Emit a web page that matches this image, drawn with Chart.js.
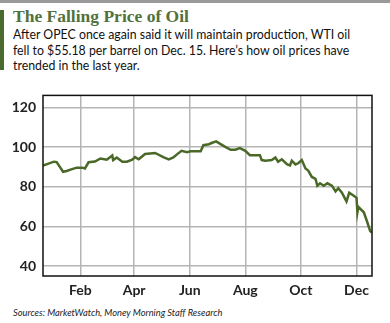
<!DOCTYPE html>
<html>
<head>
<meta charset="utf-8">
<script src="https://cdn.jsdelivr.net/npm/chart.js@4.4.0/dist/chart.umd.min.js"></script>
<style>
  html, body { margin: 0; padding: 0; background: #fff; }
  #wrap { position: relative; width: 390px; height: 323px; overflow: hidden; background: #fff; }
  #topbar { position: absolute; left: 0; top: 0; width: 390px; height: 3px; background: #9a9a9a; }
  #sidebar { position: absolute; left: 0; top: 10px; width: 4px; height: 60px; background: #4b6a2e; }
  #title { position: absolute; left: 13px; top: 6px; font-family: "Liberation Serif", serif; font-weight: bold; font-size: 17.5px; color: #53713a; white-space: nowrap; }
  #sub { position: absolute; left: 13px; top: 26px; font-family: Lato, sans-serif; font-size: 14px; line-height: 15.5px; color: #111; white-space: nowrap; transform: scaleX(0.88); transform-origin: left top; }
  #src { position: absolute; left: 13px; top: 307px; font-family: Lato, sans-serif; font-style: italic; font-size: 9.3px; color: #222; white-space: nowrap; }
  #box { position: absolute; left: 0; top: 80px; width: 390px; height: 220px; }
</style>
</head>
<body>
<div id="wrap">
  <div id="topbar"></div>
  <div id="sidebar"></div>
  <div id="title">The Falling Price of Oil</div>
  <div id="sub">After OPEC once again said it will maintain production, WTI oil<br>fell to $55.18 per barrel on Dec. 15. Here’s how oil prices have<br>trended in the last year.</div>
  <div id="box"><canvas id="oil"></canvas></div>
  <div id="src">Sources: MarketWatch, Money Morning Staff Research</div>
</div>
<script>
// dates, prices in $ per barrel
const dates = [
  '2013-12-22', '2014-01-03', '2014-01-06', '2014-01-10', '2014-01-13', '2014-01-17',
  '2014-01-22', '2014-01-28', '2014-02-03', '2014-02-06', '2014-02-10', '2014-02-17',
  '2014-02-23', '2014-03-02', '2014-03-08', '2014-03-09', '2014-03-13', '2014-03-19',
  '2014-03-24', '2014-03-30', '2014-04-02', '2014-04-06', '2014-04-13', '2014-04-24',
  '2014-05-03', '2014-05-09', '2014-05-14', '2014-05-18', '2014-05-23', '2014-05-29',
  '2014-06-02', '2014-06-13', '2014-06-16', '2014-06-22', '2014-06-25', '2014-06-30',
  '2014-07-04', '2014-07-10', '2014-07-16', '2014-07-21', '2014-07-26', '2014-08-01',
  '2014-08-06', '2014-08-17', '2014-08-19', '2014-08-23', '2014-08-30', '2014-09-03',
  '2014-09-06', '2014-09-10', '2014-09-16', '2014-09-19', '2014-09-21', '2014-09-25',
  '2014-09-28', '2014-10-02', '2014-10-06', '2014-10-09', '2014-10-13', '2014-10-17',
  '2014-10-19', '2014-10-22', '2014-10-26', '2014-10-30', '2014-11-04', '2014-11-08',
  '2014-11-11', '2014-11-15', '2014-11-20', '2014-11-23', '2014-11-28', '2014-12-01',
  '2014-12-02', '2014-12-03', '2014-12-09', '2014-12-12', '2014-12-16', '2014-12-18'
];
const prices = [
  90.7, 92.6, 92.4, 89.6, 87.5, 87.9,
  88.7, 89.6, 89.6, 89.2, 92.3, 92.7,
  94.2, 93.6, 95.7, 93.4, 94.7, 92.6,
  92.6, 93.6, 94.9, 93.8, 96.5, 97.0,
  94.9, 93.8, 94.7, 96.3, 98.1, 97.4,
  97.8, 97.8, 100.9, 101.4, 102.0, 102.8,
  101.7, 100.1, 98.6, 98.6, 99.4, 98.1,
  95.9, 95.9, 93.4, 93.1, 93.4, 94.7,
  92.6, 93.8, 91.2, 90.7, 93.1, 91.2,
  91.8, 93.4, 89.2, 88.1, 84.9, 84.0,
  80.5, 81.7, 80.5, 81.7, 80.5, 77.6,
  79.2, 77.0, 72.6, 77.0, 75.4, 74.4,
  67.1, 69.8, 67.1, 63.2, 57.7, 56.9
];

const monthTicks = ['2014-02-01', '2014-04-01', '2014-06-01', '2014-08-01', '2014-10-01', '2014-12-01'];
const monthLabels = ['Feb', 'Apr', 'Jun', 'Aug', 'Oct', 'Dec'];
const yTicks = [40, 60, 80, 100, 120];

// days counted from Jan 1 2014
function dayNum(s) {
  const p = s.split('-').map(Number);
  return Math.round((Date.UTC(p[0], p[1] - 1, p[2]) - Date.UTC(2014, 0, 1)) / 86400000);
}

const points = dates.map((d, i) => ({ x: dayNum(d), y: prices[i] }));
const tickDays = monthTicks.map(dayNum);

const frame = {
  id: 'frame',
  afterDraw(chart) {
    const a = chart.chartArea, c = chart.ctx;
    c.save();
    c.strokeStyle = '#111';
    c.lineWidth = 1.5;
    c.strokeRect(a.left, a.top, a.right - a.left, a.bottom - a.top);
    c.restore();
  }
};

new Chart(document.getElementById('oil'), {
  type: 'line',
  data: {
    datasets: [{
      data: points,
      borderColor: '#4a6928',
      borderWidth: 2.5,
      pointRadius: 0,
      tension: 0,
      fill: false
    }]
  },
  options: {
    responsive: true,
    maintainAspectRatio: false,
    animation: false,
    layout: { padding: { top: 8, right: 18, left: 0, bottom: 0 } },
    plugins: { legend: { display: false }, tooltip: { enabled: false } },
    scales: {
      x: {
        type: 'linear',
        min: -10,
        max: 351,
        afterBuildTicks(scale) { scale.ticks = tickDays.map(v => ({ value: v })); },
        afterFit(scale) { scale.height = 24; },
        grid: { color: '#b5b5b5', lineWidth: 1.5, drawTicks: false },
        border: { display: false },
        ticks: {
          padding: 6,
          color: '#222',
          font: { family: 'Lato', size: 14, weight: 'bold' },
          maxRotation: 0,
          autoSkip: false,
          callback: (v) => monthLabels[tickDays.indexOf(v)]
        }
      },
      y: {
        min: 35,
        max: 126,
        afterBuildTicks(scale) { scale.ticks = yTicks.map(v => ({ value: v })); },
        afterFit(scale) { scale.width = 43; },
        grid: { color: '#b5b5b5', lineWidth: 1.5, drawTicks: false },
        border: { display: false },
        ticks: {
          padding: 7,
          color: '#222',
          font: { family: 'Lato', size: 14, weight: 'bold' }
        }
      }
    }
  },
  plugins: [frame]
});
</script>
</body>
</html>
